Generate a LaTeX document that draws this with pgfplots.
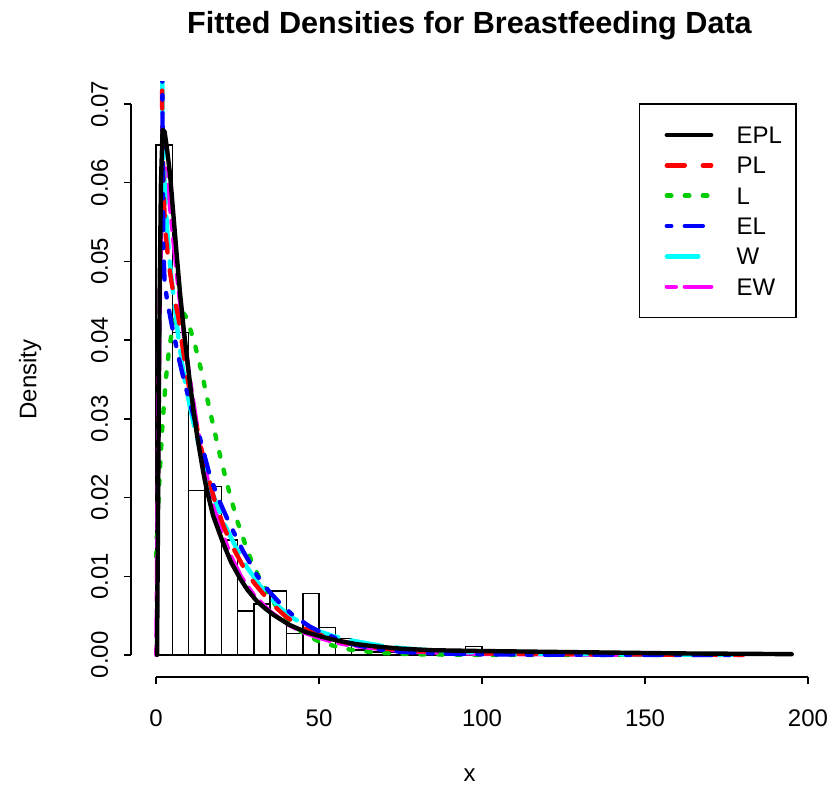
\documentclass[border=0pt]{standalone}
\usepackage{pgfplots}
\pgfplotsset{compat=1.18}
\usepackage{fontspec}
\setmainfont{Liberation Sans}
\definecolor{rred}{RGB}{255,0,0}
\definecolor{rgreen}{RGB}{0,205,0}
\definecolor{rblue}{RGB}{0,0,255}
\definecolor{rcyan}{RGB}{0,255,255}
\definecolor{rmag}{RGB}{255,0,255}
\tikzset{
  cbase/.style={line width=2.2pt, line cap=round, line join=round},
  sEPL/.style={cbase, black, solid},
  sPL/.style={cbase, rred, dash pattern=on 9pt off 9pt},
  sL/.style={cbase, rgreen, dash pattern=on 2.25pt off 6.75pt},
  sEL/.style={cbase, rblue, dash pattern=on 2.25pt off 6.75pt on 9pt off 6.75pt},
  sW/.style={cbase, rcyan, dash pattern=on 15.75pt off 6.75pt},
  sEW/.style={cbase, rmag, dash pattern=on 4.5pt off 4.5pt on 13.5pt off 4.5pt},
}
\begin{document}
\begin{tikzpicture}
\useasboundingbox (-65.5pt,-61pt) rectangle (349pt,338.5pt);
\begin{axis}[
  scale only axis, width=338.5pt, height=297.5pt,
  xmin=-7.69, xmax=200, ymin=-0.0028, ymax=0.0728,
  clip mode=individual,
  axis line style={draw=none},
  tick pos=left, tick align=outside, major tick length=3.5pt,
  tick style={black, line width=0.75pt},
  xtick={0,50,100,150,200},
  ytick={0,0.01,0.02,0.03,0.04,0.05,0.06,0.07},
  scaled y ticks=false,
  /pgf/number format/assume math mode=true,
  yticklabel style={/pgf/number format/fixed, /pgf/number format/fixed zerofill, /pgf/number format/precision=2},
  tick label style={font=\fontsize{12}{14}\selectfont, inner sep=0pt},
  xticklabel style={anchor=north},
  yticklabel style={rotate=90, anchor=south},
  xticklabel shift=12.5pt,
  yticklabel shift=7.7pt,
  label style={font=\fontsize{12}{14}\selectfont},
  xlabel={x}, ylabel={Density},
  xlabel style={at={(axis description cs:0.5,-0.1647)}, anchor=center, inner sep=0pt},
  ylabel style={at={(axis description cs:-0.149,0.5)}, anchor=center, inner sep=0pt},
  title={Fitted Densities for Breastfeeding Data},
  every axis title shift=0pt,
  title style={at={(axis description cs:0.5,1.0807)}, anchor=base, inner sep=0pt, font=\fontsize{15.3}{18}\selectfont\bfseries},
  legend cell align=left,
  legend image code/.code={\path (0pt,0pt); \draw[#1] (12.5pt,0pt) -- (34.7pt,0pt);},
  legend style={at={(axis description cs:0.9823,0.963)}, anchor=north east,
    draw=black, line width=0.75pt, fill=white, outer sep=0pt,
    inner xsep=0pt, inner ysep=11.2pt, row sep=6.57pt, column sep=11.65pt,
    nodes={inner sep=0pt, text height=8.6pt, text depth=0pt, text width=29.65pt, font=\fontsize{12}{14}\selectfont}},
]
% histogram (bin width 5)
\addplot[ybar interval, draw=black, line width=0.75pt, fill=none, forget plot] coordinates {
(0,0.0648)(5,0.0410)(10,0.0209)(15,0.0214)(20,0.0146)(25,0.0056)(30,0.0065)(35,0.0081)(40,0.0027)(45,0.0078)(50,0.0035)(55,0.0021)(60,0.0006)(65,0.0004)(70,0.0004)(75,0.0002)(80,0.0002)(85,0.0002)(90,0)(95,0.0011)(100,0.0002)(105,0)(110,0.0002)(115,0)(120,0)(125,0.0002)(130,0)(135,0)(140,0)(145,0)(150,0.0002)(155,0)(160,0)(165,0)(170,0)(175,0)(180,0)(185,0)(190,0.0002)(195,0)
};
% L (Lindley)
\addplot[sL, forget plot] coordinates {
(0,0.0125)(1,0.0221)(2,0.0295)(3,0.0350)(4,0.0389)(5,0.0414)(6,0.0430)(7,0.0436)(8,0.0436)(9,0.0431)(10,0.0421)(12,0.0393)(14,0.0359)(16,0.0320)(18,0.0283)(20,0.0247)(22,0.0214)(25,0.0169)(28,0.0133)(30,0.0112)(35,0.0072)(40,0.0046)(45,0.0028)(50,0.0017)(55,0.0011)(60,0.00064)(70,0.00023)(80,0.00008)(100,0.00001)(130,0)(180,0)
};
% EW
\addplot[sEW, forget plot] coordinates {
(0.1,0)(0.4,0.015)(0.8,0.033)(1.2,0.047)(1.7,0.057)(2.3,0.0615)(3.0,0.0618)(3.8,0.0590)(5.0,0.0540)(6.5,0.0480)(8.0,0.0425)(10,0.0360)(12.5,0.0292)(15,0.0237)(17.5,0.0193)(20,0.0158)(23,0.0125)(26,0.0100)(30,0.0076)(35,0.0055)(40,0.0040)(45,0.0029)(50,0.0022)(55,0.0016)(60,0.0012)(70,0.0007)(80,0.0004)(100,0.00015)(130,0.00005)(180,0.00001)
};
% W
\addplot[sW, forget plot] coordinates {
(1.85,0.09)(1.95,0.066)(2.4,0.062)(2.8,0.058)(3.5,0.0535)(4.3,0.0495)(5.3,0.0458)(6.8,0.0405)(7.9,0.0372)(9,0.0345)(10.4,0.0315)(12,0.0285)(14,0.0252)(17,0.0209)(21,0.0166)(24.7,0.0135)(27.8,0.0112)(31.9,0.0088)(35,0.0073)(38,0.0060)(42,0.0047)(46,0.0037)(50,0.0030)(54.4,0.0024)(60.5,0.0018)(70,0.0011)(80,0.0007)(90,0.00045)(100,0.0003)(120,0.00015)(150,0.00005)(180,0.00002)
};
% PL
\addplot[sPL, forget plot] coordinates {
(1.6,0.09)(1.9,0.068)(2.3,0.059)(2.8,0.0540)(3.8,0.0500)(4.8,0.0472)(5.8,0.0450)(6.8,0.0430)(8,0.0395)(9.5,0.0355)(11,0.0318)(12.5,0.0290)(14,0.0260)(15.5,0.0234)(18,0.0196)(20.5,0.0166)(23,0.0141)(26.8,0.0112)(30,0.0092)(35,0.0067)(40,0.0048)(45,0.0035)(50,0.0026)(55,0.0019)(60,0.0014)(70,0.0008)(80,0.0005)(100,0.0002)(130,0.00008)(180,0.00002)
};
% EL
\addplot[sEL, forget plot] coordinates {
(1.8,0.09)(1.95,0.070)(2.2,0.052)(2.6,0.0475)(3.4,0.0450)(4.8,0.0420)(6.8,0.0380)(8.4,0.0352)(10.4,0.0320)(12,0.0297)(13,0.0283)(14.5,0.0259)(16.6,0.0226)(19.6,0.0194)(21.2,0.0179)(23.7,0.0157)(26.8,0.0131)(28.8,0.0117)(31,0.0101)(33,0.0089)(35.5,0.0077)(37.5,0.0068)(40,0.0058)(42.1,0.0050)(47.2,0.0036)(51,0.0028)(55.4,0.0021)(60,0.0014)(67,0.0008)(75,0.0004)(85,0.0002)(100,0.00008)(120,0.00003)(180,0)
};
% EPL
\addplot[sEPL, forget plot] coordinates {
(0.3,0)(0.5,0.012)(0.8,0.030)(1.1,0.046)(1.5,0.060)(2.0,0.0667)(2.6,0.0665)(3.3,0.0645)(4.3,0.0610)(5.3,0.0560)(6.3,0.0510)(7.3,0.0462)(8.4,0.0417)(9.5,0.0377)(10.5,0.0342)(11.5,0.0310)(12.5,0.0281)(13.5,0.0256)(14.5,0.0232)(15.5,0.0211)(17.5,0.0177)(20.5,0.0143)(23,0.0118)(25.8,0.0097)(28,0.0083)(31,0.0068)(33.5,0.0059)(36,0.0051)(41,0.0038)(46,0.0029)(51,0.0023)(56,0.0018)(61,0.0014)(67,0.0011)(75,0.0008)(85,0.0006)(100,0.0005)(120,0.0004)(140,0.0003)(160,0.0002)(180,0.00015)(195,0.0001)
};
\addlegendimage{sEPL}\addlegendentry{EPL}
\addlegendimage{sPL}\addlegendentry{PL}
\addlegendimage{sL}\addlegendentry{L}
\addlegendimage{sEL}\addlegendentry{EL}
\addlegendimage{sW}\addlegendentry{W}
\addlegendimage{sEW}\addlegendentry{EW}
% R-style axis lines
\draw[black, line width=0.75pt] (axis cs:0,-0.0028) -- (axis cs:200,-0.0028);
\draw[black, line width=0.75pt] (axis cs:-7.69,0) -- (axis cs:-7.69,0.07);
\end{axis}
\end{tikzpicture}
\end{document}
